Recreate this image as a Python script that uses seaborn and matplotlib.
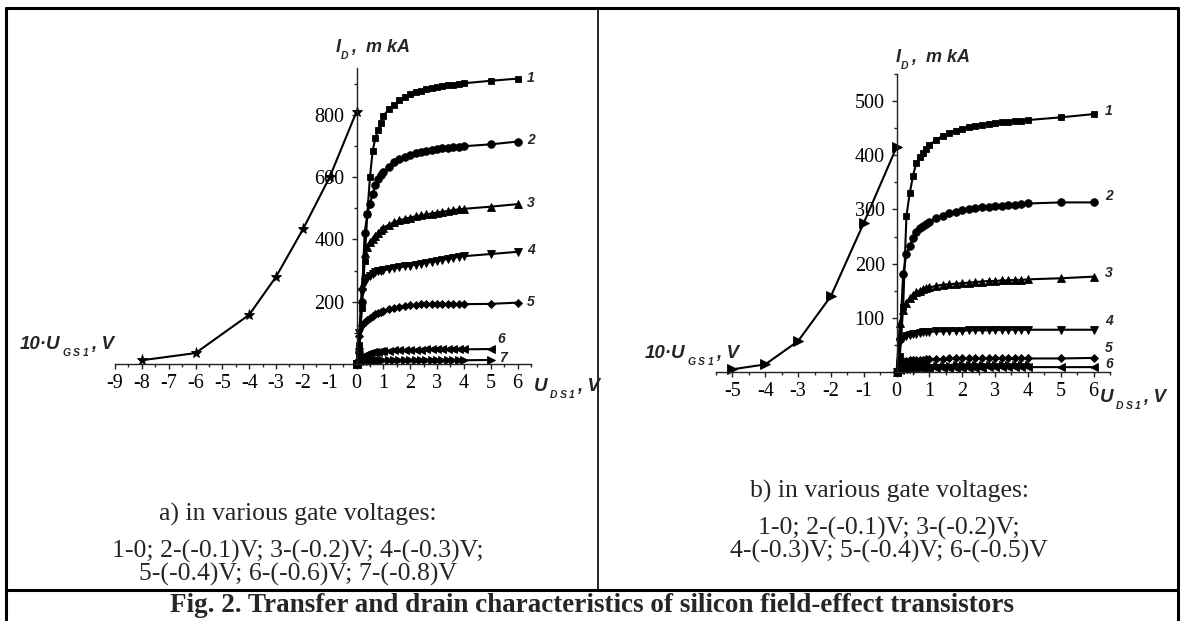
import matplotlib
matplotlib.use('Agg')
import matplotlib.pyplot as plt
import seaborn as sns
from matplotlib.lines import Line2D
from matplotlib.ticker import MultipleLocator, FixedLocator

# ---------------- data ----------------
# shared drain-source voltages (V)
uds = [0, 0.1, 0.2, 0.3, 0.4, 0.5, 0.6, 0.7, 0.8, 0.9, 1.0, 1.2, 1.4, 1.6, 1.8,
       2.0, 2.2, 2.4, 2.6, 2.8, 3.0, 3.2, 3.4, 3.6, 3.8, 4.0, 5.0, 6.0]
uds_to5 = uds[:-1]
uds_to4 = uds[:-2]

# panel a) transfer characteristic (10*U_GS1, V ; I_D, mkA)
ugs_a = [-8, -6, -4, -3, -2, -1, 0]
id_tr_a = [12, 35, 158, 280, 432, 600, 810]

# panel a) drain characteristics
a1 = [0, 60, 180, 330, 480, 600, 683, 725, 752, 775, 797, 817, 832, 846, 857,
      865, 872, 877, 882, 886, 890, 893, 895, 897, 899, 901, 909, 916]
a2 = [0, 40, 200, 420, 480, 515, 545, 575, 595, 605, 615, 632, 647, 657, 665,
      671, 676, 680, 684, 687, 690, 692, 694, 696, 698, 699, 705, 714]
a3 = [0, 60, 250, 355, 375, 390, 402, 412, 421, 430, 437, 447, 455, 461, 466,
      470, 474, 477, 480, 483, 486, 489, 491, 494, 496, 498, 505, 513]
a4 = [0, 100, 230, 262, 275, 283, 290, 294, 297, 299, 301, 304, 307, 310, 313,
      316, 319, 322, 325, 328, 331, 334, 337, 341, 344, 346, 353, 360]
a5 = [0, 90, 125, 135, 142, 148, 154, 159, 163, 167, 170, 175, 180, 184, 187,
      189, 190, 191, 191, 192, 192, 192, 192, 192, 192, 192, 193, 197]
a6 = [0, 12, 22, 28, 32, 35, 37, 39, 40, 41, 42, 43, 44, 45, 45,
      46, 46, 46, 47, 47, 47, 47, 47, 47, 47, 47, 48]
a7 = [0, 4, 7, 9, 10, 11, 11, 12, 12, 12, 12, 12, 12, 12, 12,
      12, 12, 12, 12, 12, 12, 12, 12, 12, 12, 12, 13]

# panel b) transfer characteristic
ugs_b = [-5, -4, -3, -2, -1, 0]
id_tr_b = [5, 14, 57, 140, 275, 415]

# panel b) drain characteristics
b1 = [0, 30, 120, 288, 330, 362, 386, 396, 404, 412, 419, 428, 436, 441, 445,
      449, 452, 454, 456, 458, 460, 461, 462, 463, 464, 465, 470, 476]
b2 = [0, 60, 180, 218, 232, 247, 258, 265, 270, 274, 277, 284, 288, 293, 296,
      299, 301, 302, 304, 305, 306, 307, 308, 309, 310, 311, 313, 313]
b3 = [0, 90, 115, 128, 137, 143, 147, 150, 153, 155, 156, 159, 161, 162, 163,
      164, 165, 166, 167, 168, 168, 169, 169, 170, 170, 171, 173, 176]
b4 = [0, 55, 62, 66, 68, 70, 71, 72, 73, 74, 74, 75, 75, 76, 76,
      76, 77, 77, 77, 77, 77, 78, 78, 78, 78, 78, 78, 78]
b5 = [0, 18, 20, 21, 22, 22, 23, 23, 23, 24, 24, 24, 24, 25, 25,
      25, 25, 25, 25, 25, 25, 25, 25, 25, 25, 25, 25, 26]
b6 = [0, 4, 5, 6, 6, 7, 7, 7, 7, 8, 8, 8, 8, 8, 8,
      8, 8, 8, 8, 9, 9, 9, 9, 9, 9, 9, 9, 9]
b7 = [0, 8, 10, 11, 12, 12, 12, 13, 13, 13, 13, 13, 13, 13, 14,
      14, 14, 14, 14, 14, 14, 14, 14, 14, 14, 14]

caption_a = ["a) in various gate voltages:",
             "1-0; 2-(-0.1)V; 3-(-0.2)V; 4-(-0.3)V;",
             "5-(-0.4)V; 6-(-0.6)V; 7-(-0.8)V"]
caption_b = ["b) in various gate voltages:",
             "1-0; 2-(-0.1)V; 3-(-0.2)V;",
             "4-(-0.3)V; 5-(-0.4)V; 6-(-0.5)V"]
fig_title = "Fig. 2. Transfer and drain characteristics of silicon field-effect transistors"

# ---------------- style ----------------
sns.set_style('ticks')
plt.rcParams['font.family'] = ['Liberation Serif', 'DejaVu Serif']
plt.rcParams['axes.unicode_minus'] = False

W, H = 1184, 621
fig = plt.figure(figsize=(W / 100, H / 100), dpi=100)
fig.patch.set_facecolor('white')
SANS = ['Liberation Sans', 'DejaVu Sans']
SERIF = ['Liberation Serif', 'DejaVu Serif']


def px_axes(x0, x1, y_top, y_bot):
    return fig.add_axes([x0 / W, 1 - y_bot / H, (x1 - x0) / W, (y_bot - y_top) / H])


def curve(ax, x, y, marker, ms):
    sns.lineplot(x=x, y=y, ax=ax, color='black', marker=marker, markersize=ms,
                 markeredgecolor='black', markerfacecolor='black', markeredgewidth=0.6,
                 linewidth=1.5, estimator=None, sort=False, clip_on=False)


def style_axes(ax, xlim, ylim, ymajor, yminor):
    ax.set_xlim(*xlim)
    ax.set_ylim(*ylim)
    ax.set_facecolor('none')
    ax.spines['left'].set_position(('data', 0))
    ax.spines['top'].set_visible(False)
    ax.spines['right'].set_visible(False)
    for s in ('left', 'bottom'):
        ax.spines[s].set_linewidth(1.0)
        ax.spines[s].set_color('#222222')
    ax.xaxis.set_major_locator(MultipleLocator(1))
    ax.xaxis.set_minor_locator(MultipleLocator(0.5))
    ax.yaxis.set_major_locator(FixedLocator(ymajor))
    ax.yaxis.set_minor_locator(MultipleLocator(yminor))
    ax.tick_params(which='major', direction='out', length=3.5, width=1.0,
                   labelsize=14.5, colors='#222222', labelcolor='black')
    ax.tick_params(which='minor', direction='out', length=2.2, width=1.0, colors='#222222')
    ax.tick_params(axis='x', pad=4)
    ax.tick_params(axis='y', pad=5)
    ax.set_xlabel('')
    ax.set_ylabel('')


def chain(x_px, y_px, pieces):
    """pieces: (text, fontsize, baseline shift px, extra gap px after)"""
    r = fig.canvas.get_renderer()
    x = x_px
    for s, size, dy, gap in pieces:
        t = fig.text(x / W, 1 - (y_px + dy) / H, s, fontsize=size, fontweight='bold',
                     fontstyle='italic', family=SANS, ha='left', va='baseline')
        x += t.get_window_extent(renderer=r).width + gap


def sub(letters, size=7.5, dy=7, gap=2.5):
    return [(c, size, dy, gap) for c in letters]


# ---------------- panel a ----------------
axA = px_axes(115, 531, 68, 364)
curve(axA, ugs_a, id_tr_a, '*', 8)
curve(axA, uds, a1, 's', 5)
curve(axA, uds, a2, 'o', 5.5)
curve(axA, uds, a3, '^', 6)
curve(axA, uds, a4, 'v', 6)
curve(axA, uds, a5, 'D', 4.5)
curve(axA, uds_to5, a6, '<', 6)
curve(axA, uds_to5, a7, '>', 6)
style_axes(axA, (-9, 6.5), (0, 950), [200, 400, 600, 800], 100)

num_kw = dict(fontsize=10, fontweight='bold', fontstyle='italic', family=SANS,
              ha='left', va='center')
for lab, (xx, yy) in zip("1234567", [(6.35, 918), (6.35, 718), (6.35, 517), (6.35, 366),
                                    (6.35, 200), (5.25, 80), (5.3, 18)]):
    axA.text(xx, yy, lab, **num_kw)

# ---------------- panel b ----------------
axB = px_axes(716, 1110, 74, 372)
curve(axB, ugs_b, id_tr_b, '>', 6.5)
curve(axB, uds, b1, 's', 5)
curve(axB, uds, b2, 'o', 5.5)
curve(axB, uds, b3, '^', 6)
curve(axB, uds, b4, 'v', 6)
curve(axB, uds, b5, 'D', 4.5)
curve(axB, uds, b6, '<', 6)
curve(axB, uds_to4, b7, '>', 5)
style_axes(axB, (-5.5, 6.5), (0, 550), [100, 200, 300, 400, 500], 50)

for lab, (xx, yy) in zip("123456", [(6.35, 482), (6.35, 324), (6.35, 182), (6.35, 94),
                                   (6.35, 44), (6.35, 14)]):
    axB.text(xx, yy, lab, **num_kw)

# ---------------- axis titles ----------------
chain(336, 52, [("I", 13, 0, 0)] + sub("D") + [(",  m kA", 13, 0, 0)])
chain(20, 349, [("10·U", 13.5, 0, 2)] + sub("GS1") + [(", V", 13.5, 0, 0)])
chain(534, 391, [("U", 13.5, 0, 2)] + sub("DS1") + [(", V", 13.5, 0, 0)])

chain(896, 62, [("I", 13, 0, 0)] + sub("D") + [(",  m kA", 13, 0, 0)])
chain(645, 358, [("10·U", 13.5, 0, 2)] + sub("GS1") + [(", V", 13.5, 0, 0)])
chain(1100, 402, [("U", 13.5, 0, 2)] + sub("DS1") + [(", V", 13.5, 0, 0)])

# ---------------- captions ----------------
cap_kw = dict(fontsize=18.5, family=SERIF, ha='center', va='center')
for txt, yy in zip(caption_a, [514, 551, 574]):
    fig.text(298 / W, 1 - yy / H, txt, **cap_kw)
for txt, yy in zip(caption_b, [491, 528, 551]):
    fig.text(889 / W, 1 - yy / H, txt, **cap_kw)
fig.text(592 / W, 1 - 605 / H, fig_title, fontsize=19.5, fontweight='bold',
         family=SERIF, ha='center', va='center')

# ---------------- frame ----------------
def fline(x0, y0, x1, y1, lw):
    fig.add_artist(Line2D([x0 / W, x1 / W], [1 - y0 / H, 1 - y1 / H],
                          transform=fig.transFigure, color='black', linewidth=lw,
                          solid_capstyle='butt'))

fline(5, 8, 1179, 8, 2.2)
fline(6, 7, 6, 621, 2.2)
fline(1178, 7, 1178, 621, 2.2)
fline(598, 8, 598, 590, 1.2)
fline(5, 590, 1179, 590, 2.2)

fig.savefig('out.png', dpi=100, facecolor='white')
